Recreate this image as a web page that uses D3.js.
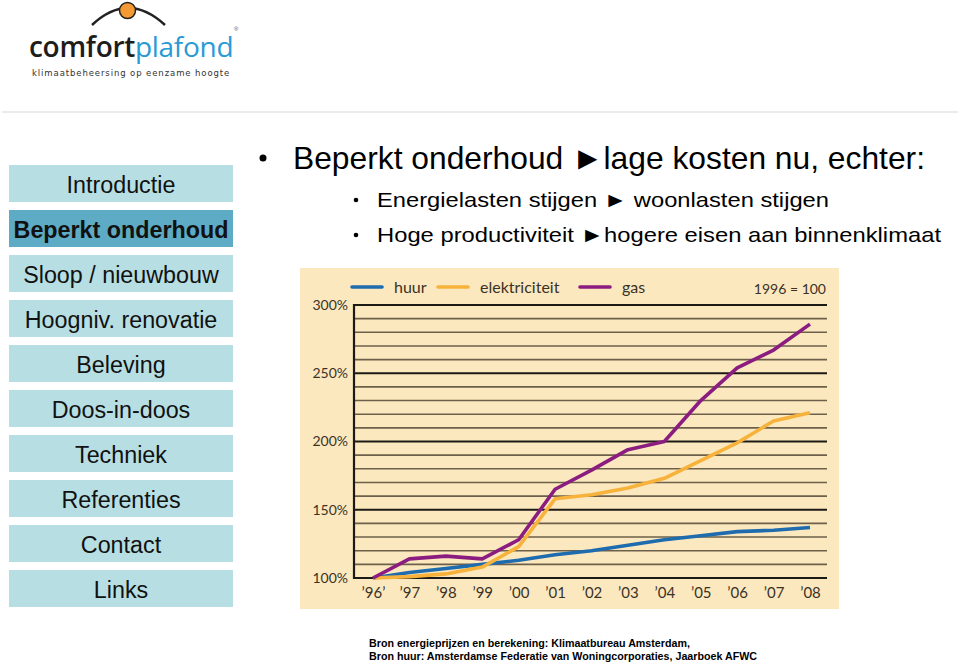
<!DOCTYPE html>
<html><head><meta charset="utf-8">
<script src="https://cdn.jsdelivr.net/npm/d3@7/dist/d3.min.js"></script>
<style>
html,body{margin:0;padding:0;background:#fff;}
svg{display:block;}
</style></head>
<body>
<svg id="c" width="960" height="663"></svg>
<script>
// ---- data ----
const years = ["’96’","’97","’98","’99","’00","’01","’02","’03","’04","’05","’06","’07","’08"];
const huur = [100,104,107,110,113,117,120,124,128,131,134,135,137];
const elektriciteit = [100,101,103,108,123,158,161,166,173,186,199,215,221];
const gas = [100,114,116,114,128,165,179,194,200,230,254,267,286];
const yTickValues = [100,150,200,250,300];
const seriesNames = ["huur","elektriciteit","gas"];
const seriesColors = ["#1e6cae","#f6b23a","#8c1d80"];
const menuItems = ["Introductie","Beperkt onderhoud","Sloop / nieuwbouw","Hoogniv. renovatie","Beleving","Doos-in-doos","Techniek","Referenties","Contact","Links"];
const activeItem = "Beperkt onderhoud";

const svg = d3.select("#c");

// ---- logo ----
const logo = svg.append("g");
logo.append("path").attr("d","M92,25 Q128,-9 165,25").attr("fill","none").attr("stroke","#222").attr("stroke-width",2.5);
logo.append("circle").attr("cx",127.5).attr("cy",10.5).attr("r",8).attr("fill","#f39a34").attr("stroke","#222").attr("stroke-width",1.5);
const lt = logo.append("text").attr("x",29).attr("y",57).attr("font-family","'Open Sans',sans-serif").attr("font-size",28).attr("letter-spacing",-0.3);
lt.append("tspan").attr("fill","#1d1d1b").attr("font-weight",600).text("comfort");
lt.append("tspan").attr("fill","#2a9ad5").attr("font-weight",400).text("plafond");
logo.append("text").attr("x",234).attr("y",31).attr("font-family","Arial,sans-serif").attr("font-size",6).attr("fill","#555").text("®");
logo.append("text").attr("x",32).attr("y",76).attr("font-family","'DejaVu Sans',sans-serif").attr("font-size",8.5).attr("letter-spacing",0.9).attr("fill","#333").text("klimaatbeheersing op eenzame hoogte");
svg.append("line").attr("x1",2).attr("x2",958).attr("y1",112).attr("y2",112).attr("stroke","#e4e4e4").attr("stroke-width",1.5);

// ---- sidebar ----
const menu = svg.append("g");
const my = d3.scaleBand().domain(menuItems).range([165,607]).paddingInner(8/45).paddingOuter(0);
menuItems.forEach(m=>{
  const g = menu.append("g");
  g.append("rect").attr("x",9).attr("y",my(m)).attr("width",224).attr("height",my.bandwidth())
    .attr("fill", m===activeItem ? "#5eabc5" : "#b7dfe3");
  g.append("text").attr("x",121).attr("y",my(m)+28).attr("text-anchor","middle")
    .attr("font-family","'Liberation Sans',Arial,sans-serif").attr("font-size",23.3)
    .attr("font-weight", m===activeItem ? "bold":"normal").attr("fill","#111").text(m);
});

// ---- title bullets ----
const tf = "'Liberation Sans',Arial,sans-serif";
svg.append("circle").attr("cx",263).attr("cy",158).attr("r",3.5).attr("fill","#000");
svg.append("text").attr("x",293).attr("y",169).attr("font-family",tf).attr("font-size",32).attr("fill","#000")
  .attr("textLength",632).attr("lengthAdjust","spacingAndGlyphs")
  .text("Beperkt onderhoud ►lage kosten nu, echter:");
svg.append("circle").attr("cx",356).attr("cy",200).attr("r",2.3).attr("fill","#000");
svg.append("text").attr("x",377).attr("y",207).attr("font-family",tf).attr("font-size",21).attr("fill","#000")
  .attr("textLength",452).attr("lengthAdjust","spacingAndGlyphs")
  .text("Energielasten stijgen ► woonlasten stijgen");
svg.append("circle").attr("cx",356).attr("cy",235).attr("r",2.3).attr("fill","#000");
svg.append("text").attr("x",377).attr("y",242).attr("font-family",tf).attr("font-size",21).attr("fill","#000")
  .attr("textLength",564).attr("lengthAdjust","spacingAndGlyphs")
  .text("Hoge productiviteit ►hogere eisen aan binnenklimaat");

// ---- chart ----
const cf = "Lato,'Open Sans',sans-serif";
const chart = svg.append("g");
chart.append("rect").attr("x",300).attr("y",268).attr("width",539).attr("height",341).attr("fill","#fce8bf");
const x = d3.scalePoint().domain(years).range([373,810]);
const y = d3.scaleLinear().domain([100,300]).range([578,305]);
const xl = 354, xr = 827;

// grid
const gridVals = y.ticks(20);
chart.append("g").selectAll("line").data(gridVals).join("line")
  .attr("x1",xl).attr("x2",xr).attr("y1",d=>y(d)).attr("y2",d=>y(d))
  .attr("stroke",d=> d%50===0 ? "#1c1a16" : "#6d604a")
  .attr("stroke-width",d=> d%50===0 ? 2.2 : 1.6);
chart.append("line").attr("x1",xl).attr("x2",xl).attr("y1",y(300)-1).attr("y2",y(100)+1).attr("stroke","#1c1a16").attr("stroke-width",2.2);

// y axis labels
const ya = d3.axisLeft(y).tickValues(yTickValues).tickFormat(d=>d+"%").tickSize(0).tickPadding(6);
const yg = chart.append("g").attr("transform",`translate(${xl},0)`).call(ya);
yg.select(".domain").remove();
yg.selectAll("text").attr("font-family",cf).attr("font-size",14).attr("fill","#3b3226");

// x axis labels
const xa = d3.axisBottom(x).tickSize(0).tickPadding(9);
const xg = chart.append("g").attr("transform",`translate(0,${y(100)})`).call(xa);
xg.select(".domain").remove();
xg.selectAll("text").attr("font-family",cf).attr("font-size",15).attr("fill","#3b3226");

// lines
const line = d3.line().x((d,i)=>x(years[i])).y(d=>y(d));
[huur,elektriciteit,gas].forEach((s,k)=>{
  chart.append("path").datum(s).attr("d",line).attr("fill","none")
    .attr("stroke",seriesColors[k]).attr("stroke-width",3.6).attr("stroke-linejoin","round");
});

// legend
const legX = [352,438,580];
seriesNames.forEach((n,k)=>{
  chart.append("line").attr("x1",legX[k]).attr("x2",legX[k]+30).attr("y1",287).attr("y2",287)
    .attr("stroke",seriesColors[k]).attr("stroke-width",3.6).attr("stroke-linecap","round");
  chart.append("text").attr("x",legX[k]+42).attr("y",293).attr("font-family",cf).attr("font-size",16)
    .attr("fill","#3b3226").text(n);
});
chart.append("text").attr("x",826).attr("y",294).attr("text-anchor","end").attr("font-family",cf)
  .attr("font-size",14).attr("fill","#3b3226").text("1996 = 100");

// footer
svg.append("text").attr("x",369).attr("y",647).attr("font-family",tf).attr("font-weight","bold")
  .attr("font-size",10.7).attr("fill","#000").text("Bron energieprijzen en berekening: Klimaatbureau Amsterdam,");
svg.append("text").attr("x",369).attr("y",660).attr("font-family",tf).attr("font-weight","bold")
  .attr("font-size",10.7).attr("fill","#000").text("Bron huur: Amsterdamse Federatie van Woningcorporaties, Jaarboek AFWC");
</script>
</body></html>
